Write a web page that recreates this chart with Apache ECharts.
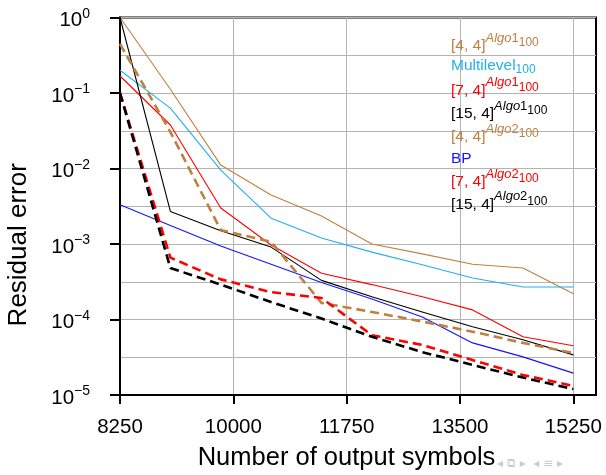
<!DOCTYPE html>
<html><head><meta charset="utf-8">
<script src="https://cdn.jsdelivr.net/npm/echarts@6/dist/echarts.min.js"></script>
<style>html,body{margin:0;padding:0;background:#fff}#c{width:606px;height:475px}</style>
</head><body><div id="c"></div>
<script>
// ---- data ----
const xValues = [8250, 9028, 9806, 10583, 11361, 12139, 12917, 13694, 14472, 15250];
const xTickLabels = [8250, 10000, 11750, 13500, 15250];

const algo1_4_4   = [1.0, 0.112, 0.0111, 0.00446, 0.00235, 0.0010, 7.4e-4, 5.4e-4, 4.8e-4, 2.2e-4];
const multilevel  = [0.20, 0.063, 0.0095, 0.0022, 0.0012, 7.8e-4, 5.3e-4, 3.55e-4, 2.7e-4, 2.7e-4];
const algo1_7_4   = [0.168, 0.0377, 0.0030, 9.7e-4, 4.1e-4, 2.9e-4, 2.0e-4, 1.34e-4, 5.9e-5, 4.5e-5];
const algo1_15_4  = [1.0, 0.0027, 0.0015, 9.1e-4, 3.3e-4, 2.0e-4, 1.26e-4, 8.0e-5, 5.4e-5, 3.4e-5];
const algo2_4_4   = [0.446, 0.0304, 0.00153, 0.00107, 1.66e-4, 1.26e-4, 9.4e-5, 6.9e-5, 4.9e-5, 3.6e-5];
const bp          = [0.0033, 0.00176, 9.4e-4, 5.4e-4, 3.1e-4, 1.87e-4, 1.08e-4, 4.9e-5, 3.2e-5, 1.95e-5];
const algo2_7_4   = [0.1, 6.6e-4, 3.4e-4, 2.3e-4, 1.93e-4, 6.2e-5, 4.6e-5, 2.9e-5, 1.84e-5, 1.32e-5];
const algo2_15_4  = [0.1, 4.8e-4, 2.9e-4, 1.7e-4, 1.03e-4, 5.9e-5, 3.7e-5, 2.5e-5, 1.7e-5, 1.2e-5];

const seriesNames = ['[4, 4]^Algo1_100','Multilevel_100','[7, 4]^Algo1_100','[15, 4]^Algo1_100',
                     '[4, 4]^Algo2_100','BP','[7, 4]^Algo2_100','[15, 4]^Algo2_100'];
const legendMain = ['[4, 4]','Multilevel','[7, 4]','[15, 4]','[4, 4]','BP','[7, 4]','[15, 4]'];
const legendSupWord = ['Algo','','Algo','Algo','Algo','','Algo','Algo'];
const legendSupNum  = ['1','','1','1','2','','2','2'];
const legendSub     = ['100','100','100','100','100','','100','100'];
const seriesData = [algo1_4_4, multilevel, algo1_7_4, algo1_15_4, algo2_4_4, bp, algo2_7_4, algo2_15_4];

// ---- styles / layout ----
const colors = ['#bf8040','#22b0ee','#ff0000','#000000','#bf8040','#1414ff','#ff0000','#000000'];
const dashed = [false,false,false,false,true,false,true,true];
const legendRowCenter = [45.5, 65.9, 90, 113.5, 136.5, 158, 181.5, 204];
const FONT = 'Liberation Sans';

const chart = echarts.init(document.getElementById('c'), null, {renderer:'canvas'});

const series = seriesData.map((d, i) => ({
  name: seriesNames[i],
  type: 'line',
  xAxisIndex: 0, yAxisIndex: 0,
  data: d.map((v, k) => [xValues[k], v]),
  showSymbol: false, symbol: 'none',
  lineStyle: dashed[i] ? {color: colors[i], width: 2.6, type: [9, 5]} : {color: colors[i], width: 1.1},
  itemStyle: {color: colors[i]},
  z: dashed[i] ? 3 : 2,
  animation: false
}));

const legendGraphics = legendMain.map((m, i) => {
  const hasSup = !!legendSupWord[i];
  let text = '{m|' + m + '}';
  if (hasSup) text += '{si|' + legendSupWord[i] + '}{s|' + legendSupNum[i] + '}';
  if (legendSub[i]) text += '{b|' + legendSub[i] + '}';
  const c = colors[i];
  return {
    type: 'text', x: 451, y: legendRowCenter[i] - 13.75, z: 100,
    style: {
      text: text, fill: c, x: 0, y: 0, align: 'left', verticalAlign: 'top',
      rich: {
        m: {fill: c, fontSize: 15.5, fontFamily: FONT, verticalAlign: 'top', padding: [6,0,0,0]},
        si: {fill: c, fontSize: 13, fontFamily: FONT, fontStyle: 'italic', verticalAlign: 'top', padding: [0,0,0,0]},
        s: {fill: c, fontSize: 13, fontFamily: FONT, verticalAlign: 'top', padding: [0,0,0,0]},
        b: {fill: c, fontSize: 12, fontFamily: FONT, verticalAlign: 'top', padding: [hasSup ? 5 : 11.5,0,0,0]}
      }
    }
  };
});

legendGraphics.push({
  type: 'text', x: 497, y: 458, z: 1,
  style: {text: '\u25C2 \u29C9 \u25B8  \u25C2 \u2261 \u25B8', fill: '#c6cadf', fontSize: 12, fontFamily: 'DejaVu Sans',
          x: 0, y: 0, align: 'left', verticalAlign: 'top'}
});

const option = {
  animation: false,
  backgroundColor: '#fff',
  textStyle: {fontFamily: FONT},
  grid: {left: 120, right: 10, top: 17.5, bottom: 80, show: true, borderColor: '#000', borderWidth: 2,
         containLabel: false, outerBoundsMode: 'none'},
  xAxis: [{
    type: 'value', min: 8250, max: 15600, interval: 875,
    name: 'Number of output symbols', nameLocation: 'middle', nameGap: 50,
    nameTextStyle: {fontSize: 25.5, color: '#000', fontFamily: FONT, padding: [0, 23, 0, 0]},
    axisLine: {show: true, onZero: false, lineStyle: {color: '#000', width: 2}},
    axisTick: {show: true, length: 9, lineStyle: {color: '#000', width: 2}, customValues: xTickLabels},
    axisLabel: {fontSize: 20.5, color: '#000', margin: 22, fontFamily: FONT, customValues: xTickLabels,
                formatter: v => String(v)},
    splitLine: {show: true, lineStyle: {color: '#b3b3b3', width: 1}}
  }],
  yAxis: [{
    type: 'log', logBase: 10, min: 1e-5, max: 1,
    name: 'Residual error', nameLocation: 'middle', nameGap: 88,
    nameTextStyle: {fontSize: 26, color: '#000', fontFamily: FONT, padding: [0, 77, 0, 0]},
    axisLine: {show: true, lineStyle: {color: '#000', width: 2}},
    axisTick: {show: true, length: 10, lineStyle: {color: '#000', width: 2}},
    splitLine: {show: false},
    axisLabel: {
      margin: 30, color: '#000',
      formatter: v => {
        const e = Math.round(Math.log10(v));
        return '{b|10}{e|' + (e === 0 ? '0' : '\u2212' + (-e)) + '}';
      },
      rich: {
        b: {fontSize: 20.5, fontFamily: FONT, color: '#000', verticalAlign: 'top', padding: [6.25,0,0,0]},
        e: {fontSize: 14, fontFamily: FONT, color: '#000', verticalAlign: 'top', padding: [3,0,0,0]}
      }
    }
  }, {
    type: 'value', min: -5, max: 0, interval: 0.5, position: 'left',
    axisLine: {show: false}, axisTick: {show: false}, axisLabel: {show: false},
    splitLine: {show: true, lineStyle: {color: '#b3b3b3', width: 1}}
  }],
  graphic: legendGraphics,
  series: series
};
chart.setOption(option);
</script></body></html>
